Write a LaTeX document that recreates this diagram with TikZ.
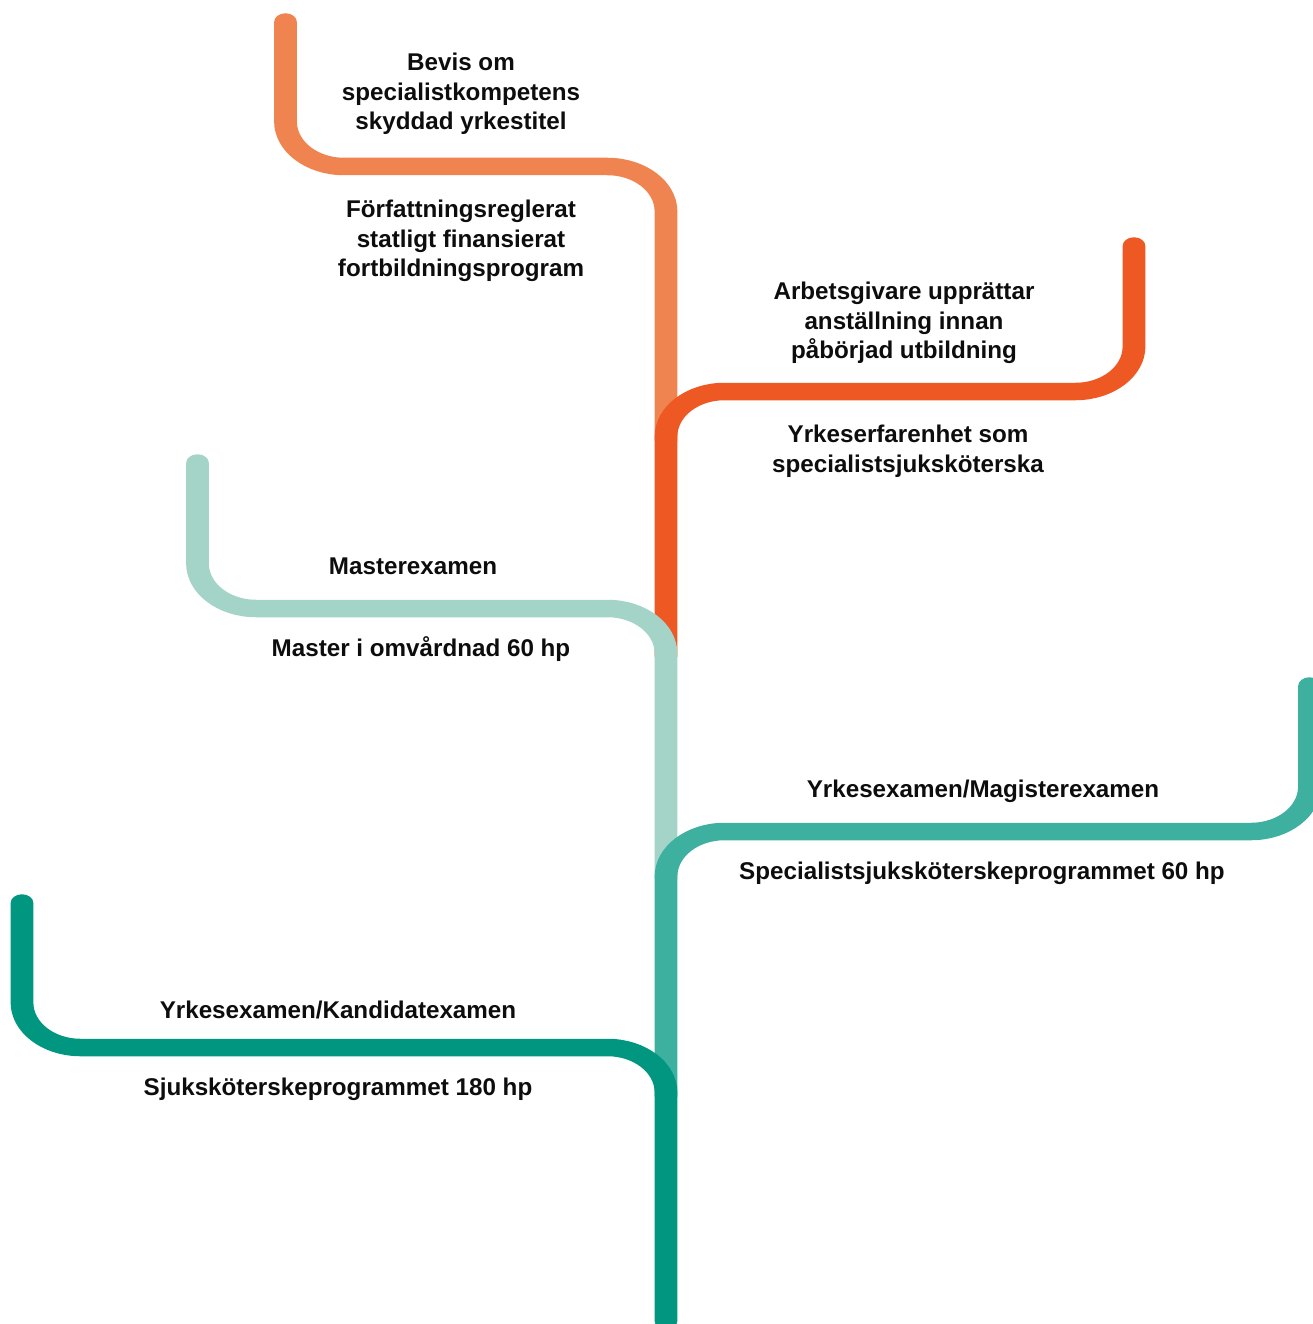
\documentclass[tikz,border=0pt]{standalone}
\usepackage{fontspec}
\setmainfont{Liberation Sans}
\usetikzlibrary{positioning}
\definecolor{ortop}{HTML}{F08450}
\definecolor{orred}{HTML}{EE5822}
\definecolor{mint}{HTML}{A3D4C7}
\definecolor{tealmid}{HTML}{3EB0A0}
\definecolor{tealdark}{HTML}{009680}
\tikzset{branch/.style = {line width=17.5pt, line cap=round, rounded corners=45pt}}
\tikzset{note/.style = {font=\fontsize{24.2}{29.5}\selectfont\bfseries, align=center, text=black!95, inner sep=0pt}}
\begin{document}
\begin{tikzpicture}[x=1pt,y=-1pt]
\useasboundingbox (0,0) rectangle (1312,1324);
% the branches, stretched sideways like the original
\begin{scope}[transform canvas={xscale=1.3}, x=0.76923pt]
\coordinate (ortopend) at (285.5,22);
\coordinate (orredend) at (1134,246);
\coordinate (mintend) at (197.5,463);
\coordinate (tealmidend) at (1309.5,686);
\coordinate (tealdarkend) at (22,903);
\draw[branch,ortop] (ortopend) -- (285.5,166.5) -- (666,166.5) -- (666,440);
\draw[branch,orred] (666,656) -- (666,391.5) -- (1134,391.5) -- (orredend);
\draw[branch,mint] (mintend) -- (197.5,608.5) -- (666,608.5) -- (666,878);
\draw[branch,tealmid] (666,1096) -- (666,831.5) -- (1309.5,831.5) -- (tealmidend);
\draw[branch,tealdark] (tealdarkend) -- (22,1047.5) -- (666,1047.5) -- (666,1321);
\end{scope}
% texts
\node[note] (bevis) at (461,94) {Bevis om\\specialistkompetens\\skyddad yrkestitel};
\node[note] (fortb) at (461,241) {Författningsreglerat\\statligt finansierat\\fortbildningsprogram};
\node[note] (arbets) at (904,323) {Arbetsgivare upprättar\\anställning innan\\påbörjad utbildning};
\node[note] (yrkerf) at (908,451) {Yrkeserfarenhet som\\specialistsjuksköterska};
\node[note] (master) at (413,566) {Masterexamen};
\node[note] (masterprog) at (421,649) {Master i omvårdnad 60 hp};
\node[note] (magister) at (983,791) {Yrkesexamen/Magisterexamen};
\node[note] (specprog) at (982,873) {Specialistsjuksköterskeprogrammet 60 hp};
\node[note] (kandidat) at (338,1010) {Yrkesexamen/Kandidatexamen};
\node[note] (sjukprog) at (338,1089) {Sjuksköterskeprogrammet 180 hp};
\end{tikzpicture}
\end{document}
